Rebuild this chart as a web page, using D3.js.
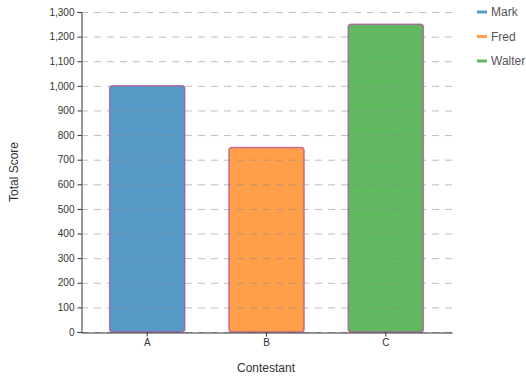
<!DOCTYPE html>
<html><head><meta charset="utf-8">
<script src="https://cdn.jsdelivr.net/npm/d3@7"></script>
<style>body{margin:0;background:#fff;font-family:"Liberation Sans",Arial,sans-serif;}</style>
</head><body><svg id="c" width="526" height="377"></svg>
<script>
const categories = ["A", "B", "C"];
const seriesNames = ["Mark", "Fred", "Walter"];
const values = [1000, 750, 1250];
const colors = ["#1f77b4", "#ff7f0e", "#2ca02c"];
const yTicks = [0,100,200,300,400,500,600,700,800,900,1000,1100,1200,1300];

const FONT = "'Liberation Sans',Arial,sans-serif";
const svg = d3.select("#c");
const m = {l:81};
const x = d3.scaleBand().domain(categories).range([m.l, 452]).paddingInner(0.37).paddingOuter(0.24);
const y = d3.scaleLinear().domain([0,1300]).range([332, 12]);

// bars
svg.selectAll("rect.bar").data(values).join("rect")
  .attr("x",(d,i)=>x(categories[i])).attr("width",x.bandwidth())
  .attr("y",d=>y(d)).attr("height",d=>y(0)-y(d))
  .attr("rx",3)
  .attr("fill",(d,i)=>colors[i]).attr("fill-opacity",0.75)
  .attr("stroke","#b0479a").attr("stroke-opacity",0.7).attr("stroke-width",1.5);

// grid
svg.append("g").selectAll("line").data(yTicks).join("line")
  .attr("x1",m.l).attr("x2",452)
  .attr("y1",d=>y(d)+0.5).attr("y2",d=>y(d)+0.5)
  .attr("stroke","#888").attr("stroke-opacity",0.55).attr("stroke-dasharray","7,6");

// y axis
const ya = svg.append("g").attr("transform",`translate(${m.l+0.5},0)`)
  .call(d3.axisLeft(y).tickValues(yTicks).tickSize(4).tickFormat(d3.format(",")));
ya.select(".domain").attr("stroke","#333");
ya.selectAll(".tick line").attr("stroke","#333");
ya.selectAll("text").attr("fill","#333").style("font-size","10px").style("font-family",FONT);

// x axis
const xa = svg.append("g").attr("transform",`translate(0,${y(0)+0.5})`)
  .call(d3.axisBottom(x).tickSize(4).tickSizeOuter(0));
xa.select(".domain").attr("stroke","#333");
xa.selectAll(".tick line").attr("stroke","#333");
xa.selectAll("text").attr("fill","#333").style("font-size","10px").attr("y",4).attr("dy","0.9em").style("font-family",FONT);

// axis titles
svg.append("text").attr("x",266).attr("y",372).attr("text-anchor","middle")
  .style("font-size","12px").style("font-family",FONT).attr("fill","#333").text("Contestant");
svg.append("text").attr("transform","translate(18,172) rotate(-90)").attr("text-anchor","middle")
  .style("font-size","12px").style("font-family",FONT).attr("fill","#333").text("Total Score");

// legend
const lg = svg.append("g").selectAll("g").data(seriesNames).join("g")
  .attr("transform",(d,i)=>`translate(477,${12+i*24.5})`);
lg.append("line").attr("x1",0).attr("x2",10).attr("stroke",(d,i)=>colors[i]).attr("stroke-opacity",0.75).attr("stroke-width",3);
lg.append("text").attr("x",14).attr("dy","0.35em").style("font-size","12px").style("font-family",FONT).attr("fill","#555").text(d=>d);
</script></body></html>
